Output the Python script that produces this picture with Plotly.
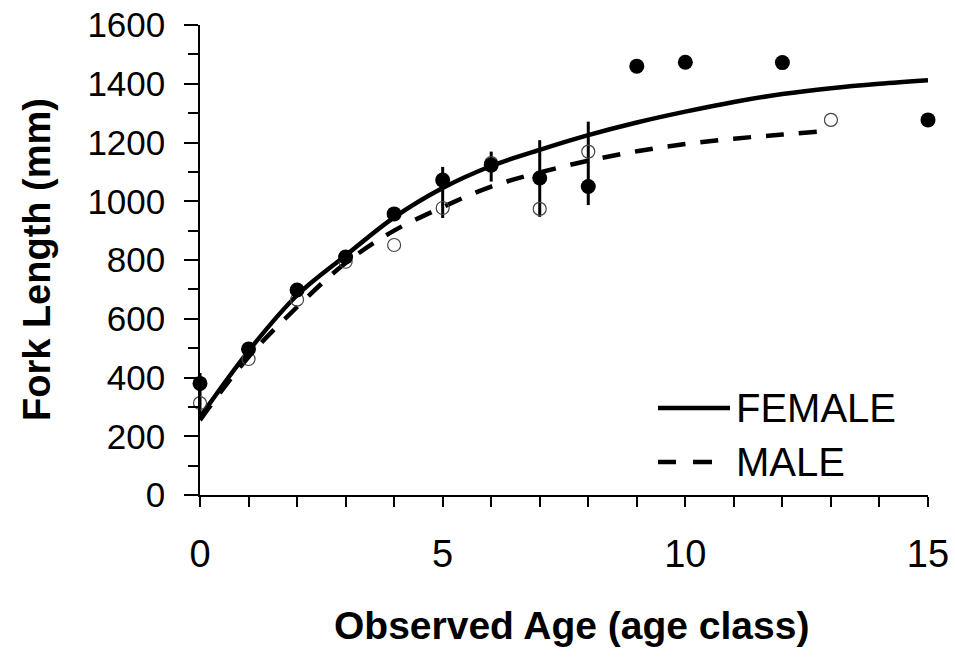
import plotly.graph_objects as go

# ---- data ----
female_age = [0, 1, 2, 3, 4, 5, 6, 7, 8, 9, 10, 12, 15]
female_len = [380, 497, 698, 810, 957, 1072, 1123, 1079, 1050, 1460, 1473, 1472, 1277]

male_age = [0, 1, 2, 3, 4, 5, 6, 7, 8, 13]
male_len = [313, 463, 665, 794, 851, 977, 1130, 974, 1169, 1277]

err_age = [0, 5, 6, 7, 8]
err_center = [380, 1072, 1123, 1079, 1050]
err_high = [415, 1117, 1169, 1208, 1271]
err_low = [270, 943, 1067, 947, 987]

fem_curve_age = [0, 1, 2, 3, 4, 5, 6, 7, 8, 9, 10, 11, 12, 13, 14, 15]
fem_curve_len = [265, 490, 680, 815, 945, 1045, 1120, 1175, 1225, 1268, 1305, 1338, 1365, 1385, 1400, 1412]

male_curve_age = [0, 1, 2, 3, 4, 5, 6, 7, 8, 9, 10, 11, 12, 13]
male_curve_len = [255, 470, 640, 790, 900, 980, 1050, 1098, 1138, 1170, 1195, 1213, 1227, 1240]

x_tickvals = [0, 5, 10, 15]
y_tickvals = [0, 200, 400, 600, 800, 1000, 1200, 1400, 1600]

FONT = "Liberation Sans, Arial, sans-serif"

fig = go.Figure()

# error bars (drawn first, beneath markers)
fig.add_trace(go.Scatter(
    x=err_age, y=err_center, mode="markers",
    marker=dict(size=1, opacity=0),
    error_y=dict(type="data", symmetric=False,
                 array=[h - c for h, c in zip(err_high, err_center)],
                 arrayminus=[c - l for c, l in zip(err_center, err_low)],
                 color="black", thickness=3, width=0),
    showlegend=False, hoverinfo="skip", cliponaxis=False))

fig.add_trace(go.Scatter(
    x=fem_curve_age, y=fem_curve_len, mode="lines", name="FEMALE",
    line=dict(color="black", width=4.5, shape="spline"), showlegend=False, cliponaxis=False))
fig.add_trace(go.Scatter(
    x=male_curve_age, y=male_curve_len, mode="lines", name="MALE",
    line=dict(color="black", width=4.5, dash="18px,15px", shape="spline"), showlegend=False, cliponaxis=False))

fig.add_trace(go.Scatter(
    x=male_age, y=male_len, mode="markers",
    marker=dict(symbol="circle-open", size=13, color="#444444", line=dict(width=1.2, color="#444444")),
    showlegend=False, cliponaxis=False))
fig.add_trace(go.Scatter(
    x=female_age, y=female_len, mode="markers",
    marker=dict(symbol="circle", size=15, color="black"),
    showlegend=False, cliponaxis=False))

# manual legend (line samples + labels)
W, H = 955, 659
L, R, T, B = 200, 27, 25, 164
pw, ph = W - L - R, H - T - B
def px(xp):
    return (xp - L) / pw
def py(yp):
    return (H - B - yp) / ph

fig.add_shape(type="line", xref="paper", yref="paper",
              x0=px(658), x1=px(730), y0=py(408), y1=py(408),
              line=dict(color="black", width=4.5))
fig.add_shape(type="line", xref="paper", yref="paper",
              x0=px(658), x1=px(676), y0=py(462), y1=py(462),
              line=dict(color="black", width=4.5))
fig.add_shape(type="line", xref="paper", yref="paper",
              x0=px(693), x1=px(712), y0=py(462), y1=py(462),
              line=dict(color="black", width=4.5))
for label, yp in [("FEMALE", 408), ("MALE", 462)]:
    fig.add_annotation(text=label, xref="paper", yref="paper", x=px(734), y=py(yp),
                       xanchor="left", yanchor="middle", showarrow=False,
                       font=dict(family=FONT, size=40, color="black"))

# axis titles
fig.add_annotation(text="<b>Fork Length (mm)</b>", xref="paper", yref="paper",
                   x=px(37), y=py(260), xanchor="center", yanchor="middle",
                   textangle=-90, showarrow=False,
                   font=dict(family=FONT, size=38, color="black"))
fig.add_annotation(text="<b>Observed Age (age class)</b>", xref="paper", yref="paper",
                   x=px(571), y=py(625), xanchor="center", yanchor="middle",
                   showarrow=False, font=dict(family=FONT, size=39, color="black"))

fig.update_xaxes(range=[0, 15], tickvals=x_tickvals, ticktext=[str(v) for v in x_tickvals],
                 ticks="outside", ticklen=10, tickwidth=1.5, tickcolor="black",
                 minor=dict(dtick=1, ticks="outside", ticklen=10, tickwidth=1.5, tickcolor="black"),
                 showline=True, linecolor="black", linewidth=1.5,
                 showgrid=False, zeroline=False,
                 tickfont=dict(family=FONT, size=38, color="black"),
                 ticklabelstandoff=15)
fig.update_yaxes(range=[0, 1600], tickvals=y_tickvals,
                 ticks="outside", ticklen=14, tickwidth=1.5, tickcolor="black",
                 minor=dict(dtick=100, ticks="outside", ticklen=10, tickwidth=1.5, tickcolor="black"),
                 showline=True, linecolor="black", linewidth=1.5,
                 showgrid=False, zeroline=False,
                 tickfont=dict(family=FONT, size=35, color="black"),
                 ticklabelstandoff=12)

fig.update_layout(width=W, height=H, margin=dict(l=L, r=R, t=T, b=B, autoexpand=False),
                  plot_bgcolor="white", paper_bgcolor="white", showlegend=False)

fig.write_html("out.html")
